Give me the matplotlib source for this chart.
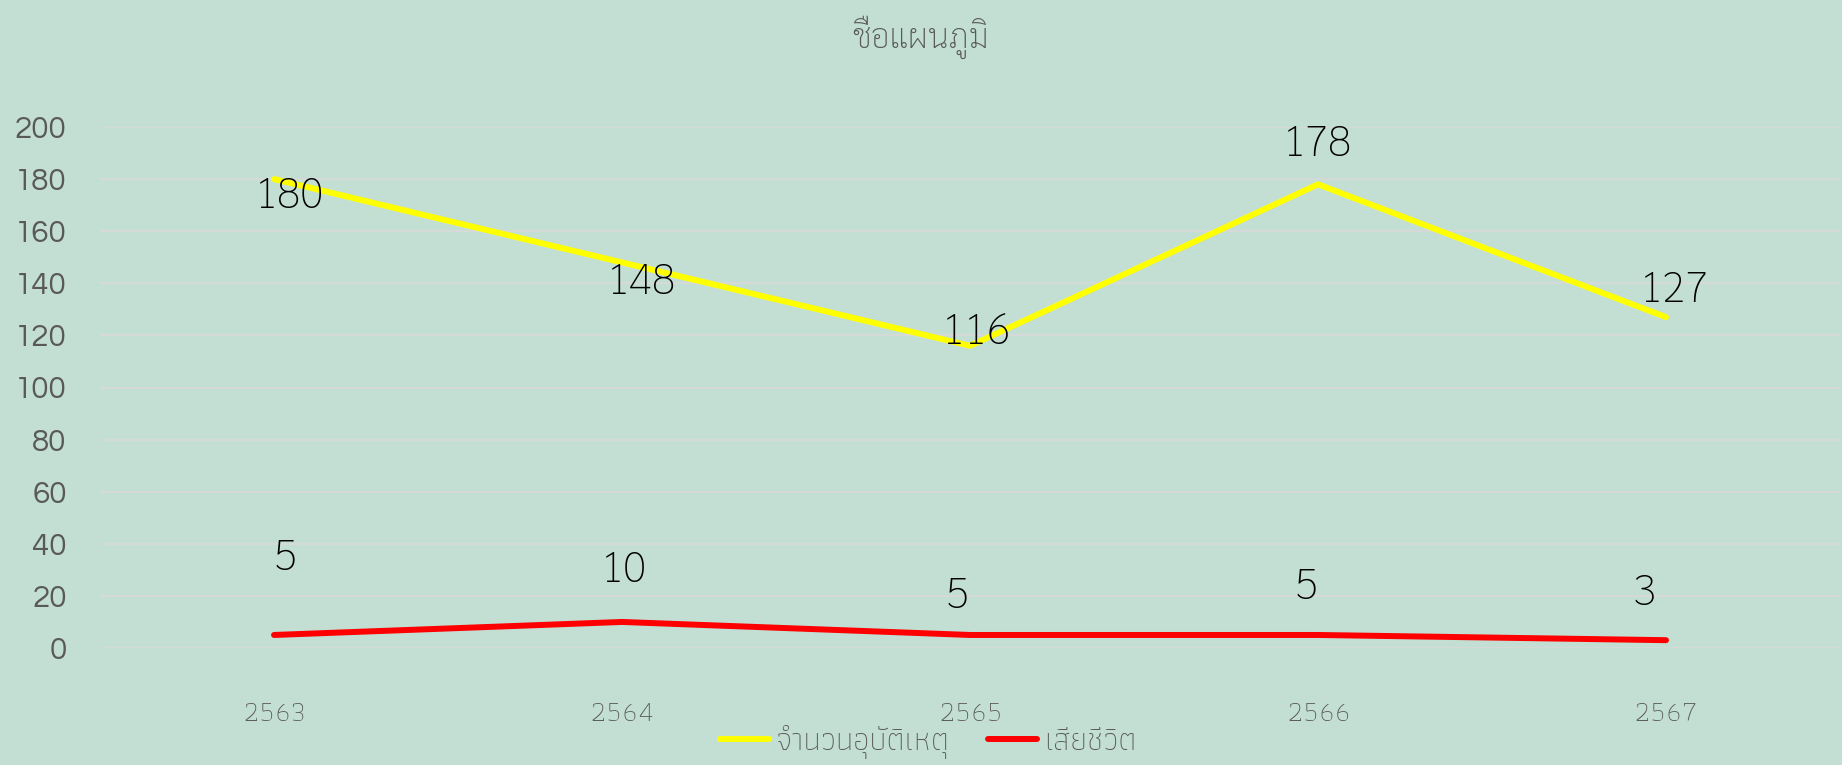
import matplotlib
matplotlib.use("Agg")
import matplotlib.pyplot as plt
from matplotlib import font_manager

# data
years = ["2563", "2564", "2565", "2566", "2567"]
accidents = [180, 148, 116, 178, 127]
deaths = [5, 10, 5, 5, 3]
series_names = ["จำนวนอุบัติเหตุ", "เสียชีวิต"]
title = "ชื่อแผนภูมิ"

# label offsets in pixels (dx, dy), as placed in the original
acc_offsets = [(15, -18), (19, -20), (6, 13), (-1, 40), (8, 26)]
death_offsets = [(11, 76), (2, 51), (-13, 38), (-12, 47), (-22, 46)]

available = set(f.name for f in font_manager.fontManager.ttflist)


def pick(*names):
    for n in names:
        if n in available:
            return n
    return "DejaVu Sans"


f_title = pick("Sarabun", "Noto Sans Thai", "Athiti")
f_label = pick("Sarabun", "Noto Sans Thai", "Athiti")
f_cond = pick("Athiti", "Pridi", "Sarabun")
f_num = pick("Questrial", "Didact Gothic", "Poppins", "Lato")

bg = "#C3DFD4"
gray = "#595959"

fig = plt.figure(figsize=(18.42, 7.65), dpi=100, facecolor=bg)
ax = fig.add_axes([100 / 1842, 1 - 648 / 765, 1740 / 1842, (648 - 127) / 765])
ax.set_facecolor(bg)

x = list(range(len(years)))
l1, = ax.plot(x, accidents, color="#FFFF00", lw=4.3, solid_capstyle="round",
              solid_joinstyle="round", label=series_names[0])
l2, = ax.plot(x, deaths, color="#FF0000", lw=4.3, solid_capstyle="round",
              solid_joinstyle="round", label=series_names[1])

for xi, v, off in zip(x, accidents, acc_offsets):
    ax.annotate(str(v), (xi, v), xytext=off, textcoords="offset pixels",
                ha="center", va="center", fontsize=31, family=f_label,
                weight="light", color="black")
for xi, v, off in zip(x, deaths, death_offsets):
    ax.annotate(str(v), (xi, v), xytext=off, textcoords="offset pixels",
                ha="center", va="center", fontsize=31, family=f_label,
                weight="light", color="black")

ax.set_xlim(-0.5, len(years) - 0.5)
ax.set_ylim(0, 200)
ax.set_yticks(range(0, 201, 20))
ax.set_xticks(x)
ax.set_xticklabels(years, family=f_cond, fontsize=21, color=gray, weight="light")
for t in ax.get_yticklabels():
    t.set_family(f_num)
    t.set_fontsize(22.5)
    t.set_color(gray)
ax.tick_params(axis="both", length=0)
ax.tick_params(axis="y", pad=24)
ax.tick_params(axis="x", pad=38)
ax.grid(axis="y", color="#D9D9D9", lw=1.2)
ax.set_axisbelow(True)
for s in ax.spines.values():
    s.set_visible(False)

fig.text(920 / 1842, 1 - 37 / 765, title, ha="center", va="center",
         fontsize=24, family=f_title, weight="light", color=gray)

fig.legend(handles=[l1, l2], loc="center", bbox_to_anchor=(928 / 1842, 1 - 742 / 765),
           ncol=2, frameon=False, handlelength=1.55, handletextpad=0.2,
           columnspacing=1.2, prop={"family": f_cond, "size": 23, "weight": "light"},
           labelcolor=gray)

fig.savefig("out.png", facecolor=bg)
